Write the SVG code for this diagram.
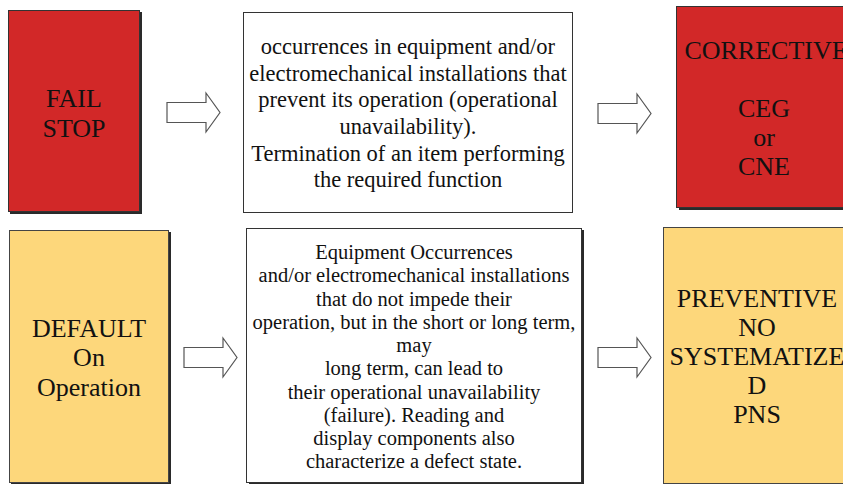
<svg xmlns="http://www.w3.org/2000/svg" width="843" height="484" viewBox="0 0 843 484">
<style>
.red{fill:#D22828;stroke:#333;stroke-width:1}
.yel{fill:#FDD77B;stroke:#444;stroke-width:1}
.wht{fill:#fff;stroke:#333;stroke-width:1}
.sh{fill:#2a2a2a}
.arr{fill:#fff;stroke:#555;stroke-width:1.2}
.t{font-family:'Liberation Serif','Times New Roman',serif;fill:#111;text-anchor:middle}
.big{font-size:26px}
.mid{font-size:22.5px}
.sm{font-size:20.5px}
</style>
<g id="connectors">
<path class="arr" d="M167,102.5 H206 V93 L220,112.5 L206,132 V122.5 H167 Z"/>
<path class="arr" d="M598,103.5 H637 V94 L651,113.5 L637,133 V123.5 H598 Z"/>
<path class="arr" d="M184,347.5 H223 V338 L237,357.5 L223,377 V367.5 H184 Z"/>
<path class="arr" d="M598,347.5 H637 V338 L651,357.5 L637,377 V367.5 H598 Z"/>
</g>
<g id="fail-stop">
<rect class="sh" x="10" y="12" width="132" height="202"/>
<rect class="red" x="8.5" y="10.5" width="131" height="201"/>
<text class="t big" x="74" y="107">FAIL</text>
<text class="t big" x="74" y="137">STOP</text>
</g>
<g id="fail-desc">
<rect class="wht" x="243.5" y="12.5" width="329" height="200"/>
<text class="t mid" x="408" y="54">occurrences in equipment and/or</text>
<text class="t mid" x="408" y="81">electromechanical installations that</text>
<text class="t mid" x="408" y="107">prevent its operation (operational</text>
<text class="t mid" x="408" y="134">unavailability).</text>
<text class="t mid" x="408" y="161">Termination of an item performing</text>
<text class="t mid" x="408" y="187">the required function</text>
</g>
<g id="corrective">
<rect class="sh" x="679" y="9" width="180" height="201"/>
<rect class="red" x="676.5" y="6.5" width="180" height="201"/>
<text class="t big" x="766" y="59">CORRECTIVE</text>
<text class="t big" x="764" y="117">CEG</text>
<text class="t big" x="764" y="146">or</text>
<text class="t big" x="764" y="175">CNE</text>
</g>
<g id="default">
<rect class="sh" x="11" y="232" width="160" height="253"/>
<rect class="yel" x="9.5" y="230.5" width="159" height="252"/>
<text class="t big" x="89" y="337">DEFAULT</text>
<text class="t big" x="89" y="366">On</text>
<text class="t big" x="89" y="396">Operation</text>
</g>
<g id="default-desc">
<rect class="sh" x="249" y="230" width="335" height="256"/>
<rect class="wht" x="246.5" y="228.5" width="335" height="254"/>
<text class="t sm" x="414" y="259">Equipment Occurrences</text>
<text class="t sm" x="414" y="282">and/or electromechanical installations</text>
<text class="t sm" x="414" y="305.5">that do not impede their</text>
<text class="t sm" x="414" y="328.5">operation, but in the short or long term,</text>
<text class="t sm" x="414" y="352">may</text>
<text class="t sm" x="414" y="375">long term, can lead to</text>
<text class="t sm" x="414" y="398.5">their operational unavailability</text>
<text class="t sm" x="414" y="421.5">(failure). Reading and</text>
<text class="t sm" x="414" y="445">display components also</text>
<text class="t sm" x="414" y="468">characterize a defect state.</text>
</g>
<g id="preventive">
<rect class="yel" x="663.5" y="227.5" width="190" height="256"/>
<text class="t big" x="757" y="307">PREVENTIVE</text>
<text class="t big" x="757" y="336">NO</text>
<text class="t big" x="757" y="365">SYSTEMATIZE</text>
<text class="t big" x="757" y="394">D</text>
<text class="t big" x="757" y="423">PNS</text>
</g>
</svg>
